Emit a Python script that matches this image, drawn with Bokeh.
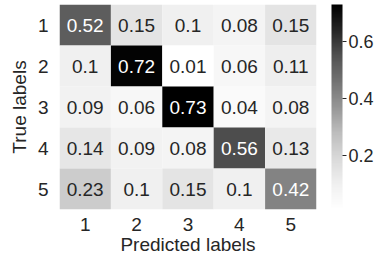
import numpy as np
from bokeh.plotting import figure
from bokeh.models import ColumnDataSource, LinearColorMapper, ColorBar, FixedTicker
from bokeh.transform import transform
from bokeh.core.properties import value
from bokeh.embed import file_html
from bokeh.resources import INLINE

# ---- data ----
categories = [1, 2, 3, 4, 5]
row1 = [0.52, 0.15, 0.10, 0.08, 0.15]
row2 = [0.10, 0.72, 0.01, 0.06, 0.11]
row3 = [0.09, 0.06, 0.73, 0.04, 0.08]
row4 = [0.14, 0.09, 0.08, 0.56, 0.13]
row5 = [0.23, 0.10, 0.15, 0.10, 0.42]
rows = [row1, row2, row3, row4, row5]
cbar_ticks = [0.2, 0.4, 0.6]

# ---- palette (matplotlib Greys) ----
anchors = ["#ffffff", "#f0f0f0", "#d9d9d9", "#bdbdbd", "#969696",
           "#737373", "#525252", "#252525", "#000000"]
anc = np.array([int(a[1:3], 16) for a in anchors], dtype=float)
pos = np.linspace(0, 1, len(anchors))
grid = np.linspace(0, 1, 256)
greys = np.interp(grid, pos, anc)
palette = ["#%02x%02x%02x" % ((int(round(g)),) * 3) for g in greys]

vals = np.array(rows)
vmin, vmax = float(vals.min()), float(vals.max())
mapper = LinearColorMapper(palette=palette, low=vmin, high=vmax)

xs, ys, vs, labels, tcolors = [], [], [], [], []
for i, r in enumerate(rows):
    for j, v in enumerate(r):
        xs.append(categories[j])
        ys.append(categories[i])
        vs.append(v)
        labels.append(f"{v:g}")
        t = (v - vmin) / (vmax - vmin)
        idx = min(255, int(t * 256))
        g = greys[idx] / 255.0
        lin = g / 12.92 if g <= 0.03928 else ((g + 0.055) / 1.055) ** 2.4
        tcolors.append("#262626" if lin > 0.408 else "#ffffff")

src = ColumnDataSource(dict(x=xs, y=ys, v=vs, label=labels, tcolor=tcolors))

FONT = "Liberation Sans"
TXT = "#262626"

p = figure(width=376, height=262, x_range=(0.5, 5.5), y_range=(5.5, 0.5),
           output_backend="svg", toolbar_location=None,
           min_border_left=59, min_border_right=58, min_border_top=4,
           min_border_bottom=53,
           x_axis_label="Predicted labels", y_axis_label="True labels")

p.rect(x="x", y="y", width=1, height=1, source=src,
       fill_color=transform("v", mapper), line_color=None)
p.text(x="x", y="y", text="label", text_color="tcolor", source=src,
       text_align="center", text_baseline="middle",
       text_font=value(FONT), text_font_size="19px")

for ax in (p.xaxis[0], p.yaxis[0]):
    ax.ticker = FixedTicker(ticks=categories)
    ax.axis_line_color = None
    ax.major_tick_line_color = None
    ax.minor_tick_line_color = None
    ax.major_tick_out = 0
    ax.major_tick_in = 0
    ax.major_label_text_font = FONT
    ax.major_label_text_font_size = "19px"
    ax.major_label_text_color = TXT
    ax.axis_label_text_font = FONT
    ax.axis_label_text_font_size = "19px"
    ax.axis_label_text_font_style = "normal"
    ax.axis_label_text_color = TXT

p.xaxis.major_label_standoff = 8
p.xaxis.axis_label_standoff = 0
p.yaxis.major_label_standoff = 11
p.yaxis.axis_label_standoff = 5
p.yaxis.major_label_orientation = "horizontal"

p.grid.visible = False
p.outline_line_color = None
p.background_fill_color = "white"
p.border_fill_color = "white"

cb = ColorBar(color_mapper=mapper, ticker=FixedTicker(ticks=cbar_ticks),
              width=11, height="auto", padding=0, location=(15, 0),
              major_tick_out=4, major_tick_in=0,
              major_tick_line_color=TXT, minor_tick_line_color=None,
              label_standoff=2,
              major_label_text_font=FONT, major_label_text_font_size="18px",
              major_label_text_color=TXT,
              bar_line_color=None, border_line_color=None,
              background_fill_color=None)
p.add_layout(cb, "right")

open("out.html", "w").write(file_html(p, INLINE))
